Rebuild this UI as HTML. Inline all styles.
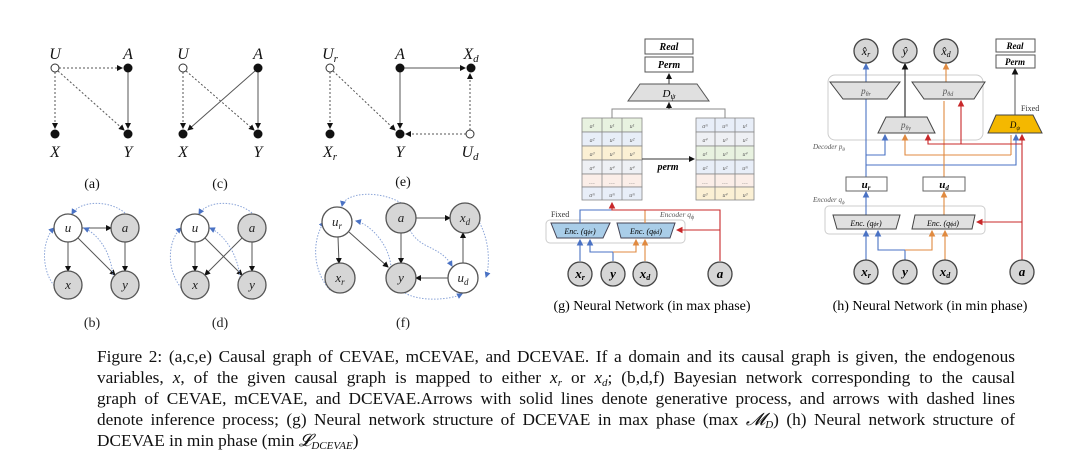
<!DOCTYPE html>
<html><head><meta charset="utf-8"><style>
body{margin:0;background:#fff;width:1080px;height:466px;overflow:hidden}
svg{position:absolute;left:0;top:0}
.cap{position:absolute;left:97px;top:346px;width:918px;font:17.3px/21px "Liberation Serif",serif;color:#111}
.cap div{height:21px;text-align:justify;text-align-last:justify;white-space:nowrap}
.cap div.l{text-align-last:left}
.cap sub{font-size:11px;line-height:0;vertical-align:-3px}
</style></head><body>
<svg width="1080" height="466" viewBox="0 0 1080 466" font-family="Liberation Serif,serif">
<defs>
<marker id="ak" markerWidth="6" markerHeight="6" refX="5" refY="3" orient="auto"><path d="M0,0L6,3L0,6z" fill="#111"/></marker>
<marker id="ab" markerWidth="6" markerHeight="6" refX="5" refY="3" orient="auto"><path d="M0,0L6,3L0,6z" fill="#4a72c4"/></marker>
<marker id="ao" markerWidth="6" markerHeight="6" refX="5" refY="3" orient="auto"><path d="M0,0L6,3L0,6z" fill="#e08a40"/></marker>
<marker id="ar" markerWidth="6" markerHeight="6" refX="5" refY="3" orient="auto"><path d="M0,0L6,3L0,6z" fill="#c8282a"/></marker>
</defs>
<g font-style="italic" font-size="16" text-anchor="middle" fill="#111">
<g stroke="#555" stroke-width="1" fill="none">
<line x1="59" y1="68" x2="122" y2="68" stroke-dasharray="2,2" marker-end="url(#ak)"/>
<line x1="55" y1="72" x2="55" y2="128" stroke-dasharray="2,2" marker-end="url(#ak)"/>
<line x1="58" y1="71" x2="124" y2="130" stroke-dasharray="2,2" marker-end="url(#ak)"/>
<line x1="128" y1="72" x2="128" y2="128" marker-end="url(#ak)"/>
</g>
<circle cx="55" cy="68" r="4" fill="#fff" stroke="#333"/><circle cx="128" cy="68" r="4.5"/><circle cx="55" cy="134" r="4.5"/><circle cx="128" cy="134" r="4.5"/>
<text x="55" y="59">U</text><text x="128" y="59">A</text><text x="55" y="157">X</text><text x="128" y="157">Y</text>
<text x="92" y="188" font-style="normal" font-size="14">(a)</text>
<g stroke="#555" stroke-width="1" fill="none">
<line x1="183" y1="72" x2="183" y2="128" stroke-dasharray="2,2" marker-end="url(#ak)"/>
<line x1="186" y1="71" x2="254" y2="130" stroke-dasharray="2,2" marker-end="url(#ak)"/>
<line x1="255" y1="71" x2="188" y2="130" marker-end="url(#ak)"/>
<line x1="258" y1="72" x2="258" y2="128" marker-end="url(#ak)"/>
</g>
<circle cx="183" cy="68" r="4" fill="#fff" stroke="#333"/><circle cx="258" cy="68" r="4.5"/><circle cx="183" cy="134" r="4.5"/><circle cx="258" cy="134" r="4.5"/>
<text x="183" y="59">U</text><text x="258" y="59">A</text><text x="183" y="157">X</text><text x="258" y="157">Y</text>
<text x="220" y="188" font-style="normal" font-size="14">(c)</text>
<g stroke="#555" stroke-width="1" fill="none">
<line x1="330" y1="72" x2="330" y2="128" stroke-dasharray="2,2" marker-end="url(#ak)"/>
<line x1="333" y1="71" x2="395" y2="130" stroke-dasharray="2,2" marker-end="url(#ak)"/>
<line x1="400" y1="72" x2="400" y2="128" marker-end="url(#ak)"/>
<line x1="404" y1="68" x2="465" y2="68" marker-end="url(#ak)"/>
<line x1="470" y1="130" x2="470" y2="74" stroke-dasharray="2,2" marker-end="url(#ak)"/>
<line x1="466" y1="134" x2="406" y2="134" stroke-dasharray="2,2" marker-end="url(#ak)"/>
</g>
<circle cx="330" cy="68" r="4" fill="#fff" stroke="#333"/><circle cx="400" cy="68" r="4.5"/><circle cx="471" cy="68" r="4.5"/><circle cx="330" cy="134" r="4.5"/><circle cx="400" cy="134" r="4.5"/><circle cx="470" cy="134" r="4" fill="#fff" stroke="#333"/>
<text x="330" y="59">U<tspan font-size="11" dy="3">r</tspan></text><text x="400" y="59">A</text><text x="471" y="59">X<tspan font-size="11" dy="3">d</tspan></text>
<text x="330" y="157">X<tspan font-size="11" dy="3">r</tspan></text><text x="400" y="157">Y</text><text x="470" y="157">U<tspan font-size="11" dy="3">d</tspan></text>
<text x="403" y="186" font-style="normal" font-size="14">(e)</text>
</g>
<g font-style="italic" font-size="13" text-anchor="middle" fill="#222">
<g stroke="#555" stroke-width="1" fill="none">
<line x1="68" y1="242" x2="68" y2="271" marker-end="url(#ak)"/><line x1="125" y1="242" x2="125" y2="271" marker-end="url(#ak)"/>
<line x1="82" y1="228" x2="111" y2="228" marker-end="url(#ak)"/><line x1="78" y1="238" x2="115" y2="275" marker-end="url(#ak)"/>
<path d="M125,213 C110,200 80,200 72,214" stroke="#8aa4d8" stroke-dasharray="1.5,1.5" marker-end="url(#ab)"/>
<path d="M56,288 C40,270 42,240 54,228" stroke="#8aa4d8" stroke-dasharray="1.5,1.5" marker-end="url(#ab)"/>
<path d="M113,278 C112,255 100,235 84,228" stroke="#8aa4d8" stroke-dasharray="1.5,1.5" marker-end="url(#ab)"/>
<line x1="195" y1="242" x2="195" y2="271" marker-end="url(#ak)"/><line x1="252" y1="242" x2="252" y2="271" marker-end="url(#ak)"/>
<line x1="205" y1="238" x2="242" y2="275" marker-end="url(#ak)"/><line x1="242" y1="238" x2="205" y2="275" marker-end="url(#ak)"/>
<path d="M252,213 C237,200 207,200 199,214" stroke="#8aa4d8" stroke-dasharray="1.5,1.5" marker-end="url(#ab)"/>
<path d="M183,290 C165,270 168,240 181,228" stroke="#8aa4d8" stroke-dasharray="1.5,1.5" marker-end="url(#ab)"/>
<path d="M240,278 C238,255 225,235 210,228" stroke="#8aa4d8" stroke-dasharray="1.5,1.5" marker-end="url(#ab)"/>
<line x1="338" y1="237" x2="339" y2="263" marker-end="url(#ak)"/><line x1="349" y1="232" x2="388" y2="267" marker-end="url(#ak)"/>
<line x1="401" y1="233" x2="401" y2="263" marker-end="url(#ak)"/><line x1="415" y1="218" x2="450" y2="218" marker-end="url(#ak)"/>
<line x1="463" y1="263" x2="463" y2="233" marker-end="url(#ak)"/><line x1="449" y1="278" x2="416" y2="278" marker-end="url(#ak)"/>
<path d="M401,203 C380,190 345,192 342,206" stroke="#8aa4d8" stroke-dasharray="1.5,1.5" marker-end="url(#ab)"/>
<path d="M330,290 C312,270 312,240 324,222" stroke="#8aa4d8" stroke-dasharray="1.5,1.5" marker-end="url(#ab)"/>
<path d="M391,268 C390,245 370,224 356,221" stroke="#8aa4d8" stroke-dasharray="1.5,1.5" marker-end="url(#ab)"/>
<path d="M410,230 C420,250 440,245 452,266" stroke="#8aa4d8" stroke-dasharray="1.5,1.5" marker-end="url(#ab)"/>
<path d="M478,220 C490,240 490,265 486,277" stroke="#8aa4d8" stroke-dasharray="1.5,1.5" marker-end="url(#ab)"/>
<path d="M405,293 C420,302 450,300 462,294" stroke="#8aa4d8" stroke-dasharray="1.5,1.5" marker-end="url(#ab)"/>
</g>
<g stroke="#555" stroke-width="1.3">
<circle cx="68" cy="228" r="14" fill="#fff"/><circle cx="125" cy="228" r="14" fill="#d6d6d6"/><circle cx="68" cy="285" r="14" fill="#d6d6d6"/><circle cx="125" cy="285" r="14" fill="#d6d6d6"/>
<circle cx="195" cy="228" r="14" fill="#fff"/><circle cx="252" cy="228" r="14" fill="#d6d6d6"/><circle cx="195" cy="285" r="14" fill="#d6d6d6"/><circle cx="252" cy="285" r="14" fill="#d6d6d6"/>
<circle cx="337" cy="222" r="15" fill="#fff"/><circle cx="401" cy="218" r="15" fill="#d6d6d6"/><circle cx="465" cy="218" r="15" fill="#d6d6d6"/>
<circle cx="340" cy="278" r="15" fill="#d6d6d6"/><circle cx="401" cy="278" r="15" fill="#d6d6d6"/><circle cx="463" cy="278" r="15" fill="#fff"/>
</g>
<text x="68" y="232">u</text><text x="125" y="232">a</text><text x="68" y="289">x</text><text x="125" y="289">y</text>
<text x="195" y="232">u</text><text x="252" y="232">a</text><text x="195" y="289">x</text><text x="252" y="289">y</text>
<text x="337" y="226">u<tspan font-size="9" dy="3">r</tspan></text><text x="401" y="222">a</text><text x="465" y="222">x<tspan font-size="9" dy="3">d</tspan></text>
<text x="340" y="282">x<tspan font-size="9" dy="3">r</tspan></text><text x="401" y="282">y</text><text x="463" y="282">u<tspan font-size="9" dy="3">d</tspan></text>
<g font-style="normal" font-size="14"><text x="92" y="327">(b)</text><text x="220" y="327">(d)</text><text x="403" y="327">(f)</text></g>
</g>
<g font-size="9" font-style="italic">
<rect x="645" y="39" width="48" height="15" fill="#fff" stroke="#555"/><rect x="645" y="57" width="48" height="15" fill="#fff" stroke="#555"/>
<text x="669" y="50" text-anchor="middle" font-weight="bold" font-size="10">Real</text><text x="669" y="68" text-anchor="middle" font-weight="bold" font-size="10">Perm</text>
<line x1="669" y1="84" x2="669" y2="74" stroke="#333" marker-end="url(#ak)"/>
<path d="M640,84H697L709,101H628z" fill="#e0e0e0" stroke="#555"/>
<text x="669" y="97" text-anchor="middle" font-size="11">D<tspan font-size="8" dy="2">ψ</tspan></text>
<path d="M612,118V109H725V118M669,109V102" fill="none" stroke="#888"/>
<line x1="669" y1="109" x2="669" y2="103" stroke="#333" marker-end="url(#ak)"/>
<g stroke="#888" stroke-width=".8">
<rect x="582" y="118" width="60" height="14" fill="#e8f2e0"/><rect x="582" y="132" width="60" height="14" fill="#e8eef8"/><rect x="582" y="146" width="60" height="14" fill="#fbf0d4"/><rect x="582" y="160" width="60" height="14" fill="#eef0f4"/><rect x="582" y="174" width="60" height="13" fill="#fbeee8"/><rect x="582" y="187" width="60" height="13" fill="#e8eef8"/>
<line x1="602" y1="118" x2="602" y2="200"/><line x1="622" y1="118" x2="622" y2="200"/>
<rect x="696" y="118" width="58" height="14" fill="#e8eef8"/><rect x="696" y="132" width="58" height="14" fill="#eef0f4"/><rect x="696" y="146" width="58" height="14" fill="#e8f2e0"/><rect x="696" y="160" width="58" height="14" fill="#e8eef8"/><rect x="696" y="174" width="58" height="13" fill="#fbeee8"/><rect x="696" y="187" width="58" height="13" fill="#fbf0d4"/>
<line x1="715" y1="118" x2="715" y2="200"/><line x1="735" y1="118" x2="735" y2="200"/>
</g>
<g font-size="6" fill="#666" text-anchor="middle">
<text x="592" y="128">a¹</text><text x="612" y="128">u¹</text><text x="632" y="128">u¹</text>
<text x="592" y="142">a²</text><text x="612" y="142">u²</text><text x="632" y="142">u²</text>
<text x="592" y="156">a³</text><text x="612" y="156">u³</text><text x="632" y="156">u³</text>
<text x="592" y="170">a⁴</text><text x="612" y="170">u⁴</text><text x="632" y="170">u⁴</text>
<text x="592" y="184">…</text><text x="612" y="184">…</text><text x="632" y="184">…</text>
<text x="592" y="197">aᵐ</text><text x="612" y="197">uᵐ</text><text x="632" y="197">uᵐ</text>
<text x="705" y="128">aᵐ</text><text x="725" y="128">uᵐ</text><text x="745" y="128">u¹</text>
<text x="705" y="142">a⁴</text><text x="725" y="142">u³</text><text x="745" y="142">u²</text>
<text x="705" y="156">a¹</text><text x="725" y="156">u³</text><text x="745" y="156">u⁴</text>
<text x="705" y="170">a²</text><text x="725" y="170">u²</text><text x="745" y="170">uᵐ</text>
<text x="705" y="184">…</text><text x="725" y="184">…</text><text x="745" y="184">…</text>
<text x="705" y="197">a³</text><text x="725" y="197">u⁴</text><text x="745" y="197">u³</text>
</g>
<line x1="642" y1="159" x2="694" y2="159" stroke="#333" marker-end="url(#ak)"/>
<text x="668" y="170" text-anchor="middle" font-size="10" font-weight="bold">perm</text>
<rect x="546" y="220" width="139" height="23" rx="4" fill="none" stroke="#ccc"/>
<text x="551" y="217" font-style="normal" font-size="8" fill="#333">Fixed</text>
<text x="660" y="217" font-size="7.5" fill="#555">Encoder q<tspan font-size="6" dy="2">ϕ</tspan></text>
<path d="M551,223H610L603,238H557z" fill="#a9cde8" stroke="#445"/><path d="M617,223H675L670,238H621z" fill="#a9cde8" stroke="#445"/>
<text x="580" y="234" text-anchor="middle" font-size="8">Enc. (q<tspan font-size="6">ϕr</tspan>)</text>
<text x="646" y="234" text-anchor="middle" font-size="8">Enc. (q<tspan font-size="6">ϕd</tspan>)</text>
<g fill="none" stroke-width="1.1">
<path d="M580,223V210H612" stroke="#4a72c4"/>
<path d="M645,223V210" stroke="#e08a40"/>
<path d="M720,261V210H612V203" stroke="#c8282a" marker-end="url(#ar)"/>
<path d="M720,230H677" stroke="#c8282a" marker-end="url(#ar)"/>
<path d="M580,261V240" stroke="#4a72c4" marker-end="url(#ab)"/>
<path d="M613,261V252H590V240" stroke="#4a72c4" marker-end="url(#ab)"/>
<path d="M613,252H636V240" stroke="#e08a40" marker-end="url(#ao)"/>
<path d="M645,261V240" stroke="#e08a40" marker-end="url(#ao)"/>
</g>
<g stroke="#444" stroke-width="1.3" fill="#d6d6d6"><circle cx="580" cy="274" r="12"/><circle cx="613" cy="274" r="12"/><circle cx="645" cy="274" r="12"/><circle cx="720" cy="274" r="12"/></g>
<g font-size="13" font-weight="bold" text-anchor="middle"><text x="580" y="278">x<tspan font-size="8" dy="2">r</tspan></text><text x="613" y="278">y</text><text x="645" y="278">x<tspan font-size="8" dy="2">d</tspan></text><text x="720" y="278">a</text></g>
</g>
<text x="652" y="310" text-anchor="middle" font-size="14">(g) Neural Network (in max phase)</text>
<g font-size="9" font-style="italic">
<rect x="828" y="75" width="155" height="65" rx="7" fill="none" stroke="#ccc"/>
<rect x="825" y="206" width="160" height="28" rx="4" fill="none" stroke="#ccc"/>
<g fill="none" stroke-width="1.1">
<path d="M866,177V82" stroke="#4a72c4"/><line x1="866" y1="82" x2="866" y2="64" stroke="#4a72c4" marker-end="url(#ab)"/>
<path d="M866,155H885V135" stroke="#4a72c4" marker-end="url(#ab)"/>
<path d="M866,165H1016V135" stroke="#4a72c4" marker-end="url(#ab)"/>
<path d="M905,117V64" stroke="#222" marker-end="url(#ak)"/>
<path d="M944,177V101" stroke="#e08a40"/><line x1="946" y1="82" x2="946" y2="64" stroke="#e08a40" marker-end="url(#ao)"/>
<path d="M1011,155H905V135" stroke="#e08a40" marker-end="url(#ao)"/>
<line x1="1011" y1="155" x2="1011" y2="135" stroke="#e08a40"/>
<path d="M1022,260V135" stroke="#c8282a" marker-end="url(#ar)"/>
<path d="M1022,144H928V135" stroke="#c8282a" marker-end="url(#ar)"/>
<path d="M961,144V101" stroke="#c8282a" marker-end="url(#ar)"/>
<path d="M1022,222H977" stroke="#c8282a" marker-end="url(#ar)"/>
<path d="M1015,115V69" stroke="#666" marker-end="url(#ak)"/>
<path d="M866,215V192" stroke="#4a72c4" marker-end="url(#ab)"/>
<path d="M944,215V192" stroke="#e08a40" marker-end="url(#ao)"/>
<path d="M866,260V231" stroke="#4a72c4" marker-end="url(#ab)"/>
<path d="M905,260V250H878V231" stroke="#4a72c4" marker-end="url(#ab)"/>
<path d="M905,250H932V231" stroke="#e08a40" marker-end="url(#ao)"/>
<path d="M945,260V231" stroke="#e08a40" marker-end="url(#ao)"/>
</g>
<g stroke="#444" stroke-width="1.3" fill="#d6d6d6"><circle cx="866" cy="51" r="12"/><circle cx="905" cy="51" r="12"/><circle cx="946" cy="51" r="12"/>
<circle cx="866" cy="272" r="12"/><circle cx="905" cy="272" r="12"/><circle cx="945" cy="272" r="12"/><circle cx="1022" cy="272" r="12"/></g>
<g font-size="12" text-anchor="middle"><text x="866" y="55">x̂<tspan font-size="8" dy="2">r</tspan></text><text x="905" y="55">ŷ</text><text x="946" y="55">x̂<tspan font-size="8" dy="2">d</tspan></text></g>
<g font-size="13" font-weight="bold" text-anchor="middle"><text x="866" y="276">x<tspan font-size="8" dy="2">r</tspan></text><text x="905" y="276">y</text><text x="945" y="276">x<tspan font-size="8" dy="2">d</tspan></text><text x="1022" y="276">a</text></g>
<rect x="996" y="39" width="39" height="13" fill="#fff" stroke="#555"/><rect x="996" y="55" width="39" height="13" fill="#fff" stroke="#555"/>
<text x="1015" y="49" text-anchor="middle" font-weight="bold">Real</text><text x="1015" y="65" text-anchor="middle" font-weight="bold">Perm</text>
<path d="M830,82H900L887,99H843z" fill="#e0e0e0" stroke="#444"/><path d="M912,82H985L974,99H924z" fill="#e0e0e0" stroke="#444"/>
<path d="M886,117H927L935,133H878z" fill="#e0e0e0" stroke="#444"/>
<path d="M996,115H1033L1042,133H988z" fill="#f4b800" stroke="#444"/>
<text x="866" y="94" text-anchor="middle" fill="#555">p<tspan font-size="6" dy="2">θr</tspan></text>
<text x="948" y="94" text-anchor="middle" fill="#555">p<tspan font-size="6" dy="2">θd</tspan></text>
<text x="906" y="128" text-anchor="middle" fill="#555">p<tspan font-size="6" dy="2">θy</tspan></text>
<text x="1015" y="128" text-anchor="middle">D<tspan font-size="6" dy="2">ψ</tspan></text>
<text x="1021" y="111" font-style="normal" font-size="8" fill="#333">Fixed</text>
<text x="813" y="149" font-size="7" fill="#555">Decoder p<tspan font-size="5" dy="2">θ</tspan></text>
<text x="813" y="202" font-size="7" fill="#555">Encoder q<tspan font-size="5" dy="2">ϕ</tspan></text>
<rect x="846" y="177" width="41" height="14" fill="#fff" stroke="#666"/><rect x="923" y="177" width="42" height="14" fill="#fff" stroke="#666"/>
<text x="866" y="188" text-anchor="middle" font-weight="bold" font-size="11">u<tspan font-size="7" dy="2">r</tspan></text>
<text x="944" y="188" text-anchor="middle" font-weight="bold" font-size="11">u<tspan font-size="7" dy="2">d</tspan></text>
<path d="M833,215H900L896,229H837z" fill="#e0e0e0" stroke="#444"/><path d="M915,215H975L972,229H912z" fill="#e0e0e0" stroke="#444"/>
<text x="866" y="226" text-anchor="middle" font-size="8">Enc. (q<tspan font-size="6">ϕr</tspan>)</text>
<text x="943" y="226" text-anchor="middle" font-size="8">Enc. (q<tspan font-size="6">ϕd</tspan>)</text>
</g>
<text x="930" y="310" text-anchor="middle" font-size="14">(h) Neural Network (in min phase)</text>
</svg>
<div class="cap">
<div>Figure 2: (a,c,e) Causal graph of CEVAE, mCEVAE, and DCEVAE. If a domain and its causal graph is given, the endogenous</div>
<div>variables, <i>x</i>, of the given causal graph is mapped to either <i>x<sub>r</sub></i> or <i>x<sub>d</sub></i>; (b,d,f) Bayesian network corresponding to the causal</div>
<div>graph of CEVAE, mCEVAE, and DCEVAE.Arrows with solid lines denote generative process, and arrows with dashed lines</div>
<div>denote inference process; (g) Neural network structure of DCEVAE in max phase (max <i>𝓜<sub>D</sub></i>) (h) Neural network structure of</div>
<div class="l">DCEVAE in min phase (min <i>𝓛<sub>DCEVAE</sub></i>)</div>
</div>
</body></html>
